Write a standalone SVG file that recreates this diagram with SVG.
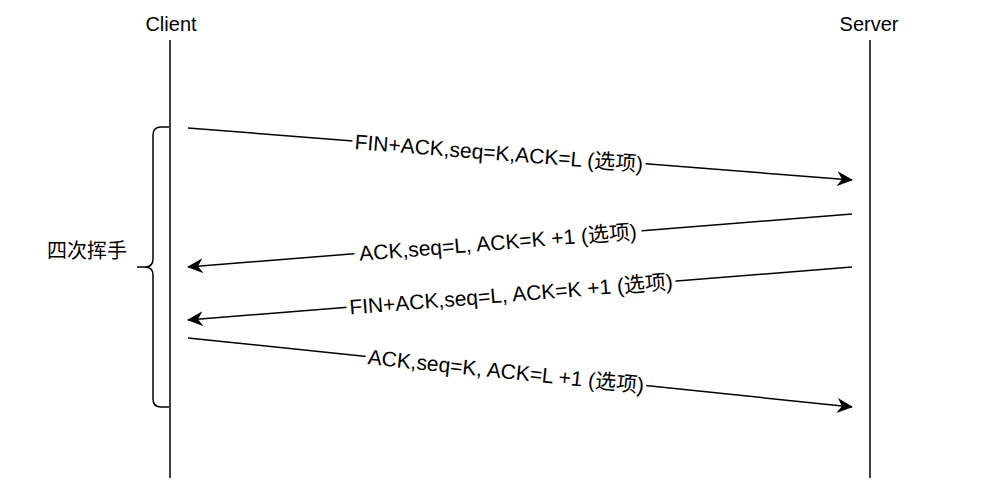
<svg xmlns="http://www.w3.org/2000/svg" width="1008" height="501" viewBox="0 0 1008 501">
<style>
text{font-family:"Liberation Sans","Noto Sans CJK SC",sans-serif;fill:#000}
.t{font-size:20px;text-anchor:middle}
.lab{font-size:21px;text-anchor:middle;dominant-baseline:central}
.ln{stroke:#000;stroke-width:1.5;fill:none}
.bg{fill:#fff}
</style>
<defs>
<marker id="ah" markerUnits="userSpaceOnUse" viewBox="0 0 16 15" refX="15" refY="7.5" markerWidth="16" markerHeight="15" orient="auto">
<path d="M0,0 L16,7.5 L0,15 L5,7.5 Z" fill="#000"/>
</marker>
</defs>
<rect width="1008" height="501" fill="#fff"/>
<g id="client">
<text class="t" x="171" y="31">Client</text>
<line class="ln" x1="170" y1="40" x2="170" y2="478"/>
</g>
<g id="server">
<text class="t" x="869" y="31">Server</text>
<line class="ln" x1="870" y1="40" x2="870" y2="478"/>
</g>
<g id="brace">
<path class="ln" d="M169,127 H161 Q153,127 153,135 V259 Q153,267 145,267 H137 M145,267 Q153,267 153,275 V399 Q153,407 161,407 H169"/>
<text class="t" x="87" y="258">四次挥手</text>
</g>
<g id="connectors">
<line class="ln" x1="188" y1="128" x2="852" y2="180" marker-end="url(#ah)"/>
<line class="ln" x1="852" y1="214" x2="188" y2="267" marker-end="url(#ah)"/>
<line class="ln" x1="852" y1="267" x2="188" y2="320" marker-end="url(#ah)"/>
<line class="ln" x1="188" y1="338" x2="852" y2="407" marker-end="url(#ah)"/>
<g transform="translate(499,152.8) rotate(4.478)">
<rect class="bg" x="-147" y="-12" width="294" height="24"/>
<text class="lab" x="0" y="0">FIN+ACK,seq=K,ACK=L (选项)</text>
</g>
<g transform="translate(498,242.3) rotate(-4.564)">
<rect class="bg" x="-144" y="-12" width="288" height="24"/>
<text class="lab" x="0" y="0">ACK,seq=L, ACK=K +1 (选项)</text>
</g>
<g transform="translate(511,294.2) rotate(-4.564)">
<rect class="bg" x="-165" y="-12" width="330" height="24"/>
<text class="lab" x="0" y="0">FIN+ACK,seq=L, ACK=K +1 (选项)</text>
</g>
<g transform="translate(506,371) rotate(5.933)">
<rect class="bg" x="-141" y="-12" width="282" height="24"/>
<text class="lab" x="0" y="0">ACK,seq=K, ACK=L +1 (选项)</text>
</g>
</g>
</svg>
